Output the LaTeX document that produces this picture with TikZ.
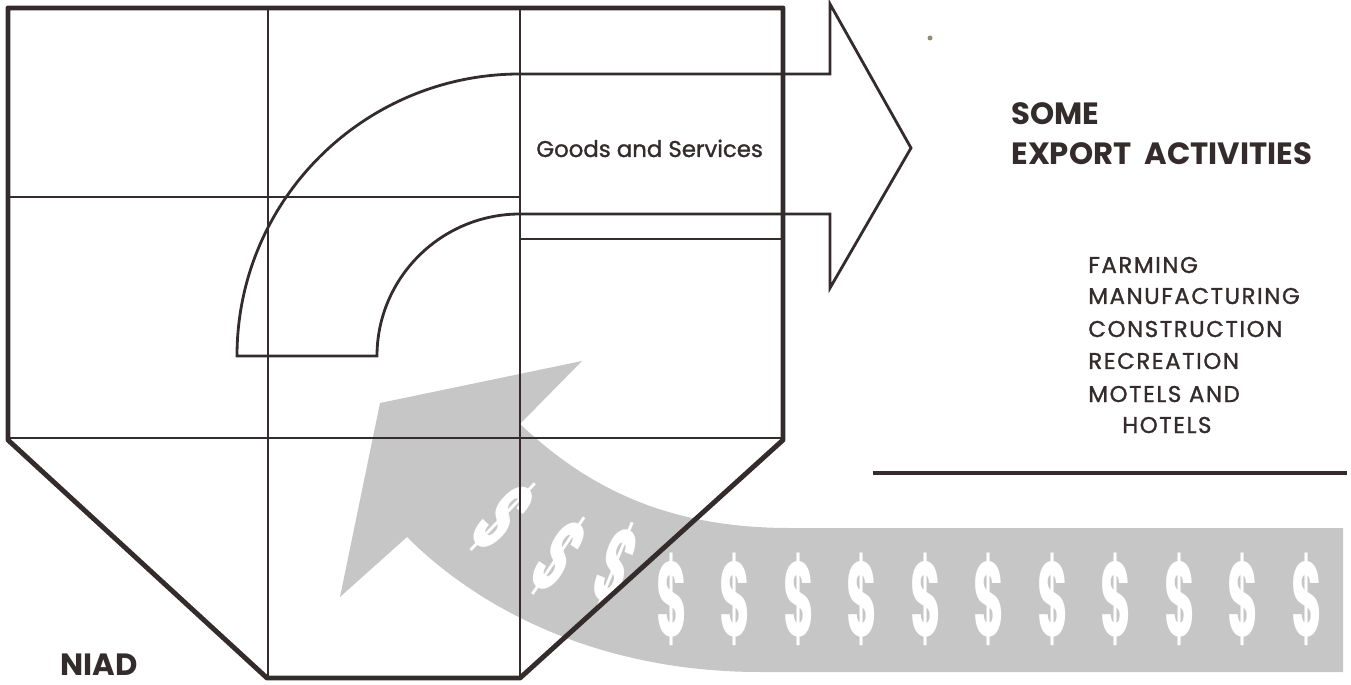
\documentclass[tikz,border=0pt]{standalone}
\usepackage{fontspec}
\setmainfont{Poppins}
\newfontfamily\medfont{Poppins}[FakeBold=1.2]
\newfontfamily\spacedfont{Poppins}[FakeBold=1.2, LetterSpace=7]
\usetikzlibrary{positioning}
\definecolor{ink}{RGB}{52,44,44}
\definecolor{cashgray}{RGB}{198,198,198}
\definecolor{speck}{RGB}{150,140,110}
\tikzset{
  wall/.style={draw=ink, line width=2.8pt, line join=round},
  gridline/.style={draw=ink, line width=1pt},
  flow/.style={draw=ink, line width=1.6pt, line join=miter},
  cash/.style={fill=cashgray, draw=none},
  dollar/.style={text=white, font=\fontsize{60}{60}\selectfont\bfseries,
    xscale=0.45, inner sep=0pt},
  goodstext/.style={text=ink, inner sep=0pt, anchor=base west,
    font=\fontsize{13}{15}\medfont},
  headline/.style={text=ink, inner sep=0pt, anchor=base west,
    font=\fontsize{17.5}{20}\selectfont\bfseries},
  itemtext/.style={text=ink, inner sep=0pt, anchor=base west,
    font=\fontsize{13}{15}\spacedfont},
  rule/.style={draw=ink, line width=1.8pt}
}

\begin{document}
\begin{tikzpicture}[x=0.02cm, y=-0.02cm]
  \useasboundingbox (0,0) rectangle (1351,685);

  % Money flowing back in
  \path[cash] (1343,528) -- (790,528)
    .. controls (670,528) and (590,490) .. (520,424)
    -- (582,361) -- (380,403) -- (340,597) -- (407,537)
    .. controls (480,610) and (600,672) .. (760,672)
    -- (1343,672) -- cycle;
  \node[rotate=-44, dollar] (d1) at (504,518) {\$};
  \node[rotate=-34, dollar] (d2) at (559,556) {\$};
  \node[rotate=-22, dollar] (d3) at (616,566) {\$};
  \foreach \i in {0,...,10}
    \node[dollar] (up\i) at (672+63.5*\i,599) {\$};

  % Region outline and grid
  \draw[gridline] (268,8) -- (268,678);
  \draw[gridline] (520,8) -- (520,678);
  \draw[gridline] (8,197) -- (520,197);
  \draw[gridline] (520,239) -- (783,239);
  \draw[gridline] (8,438) -- (783,438);
  \draw[wall] (8,8) -- (783,8) -- (783,440) -- (520,678)
    -- (267,678) -- (8,440) -- cycle;

  % Goods going out
  \draw[flow] (237,356) .. controls (237,200) and (364,74) .. (520,74)
    -- (830,74) -- (830,4) -- (911,148) -- (830,288) -- (830,214)
    -- (520,214) .. controls (441,214) and (377,278) .. (377,356) -- cycle;
  \fill[speck] (930,38) circle (2.5);

  % Labels
  \node[goodstext] (goods) at (536,157) {Goods and Services};
  \node[headline] (some) at (1011,125) {SOME};
  \node[headline] (export) at (1011,165) {EXPORT\ \ ACTIVITIES};
  \node[itemtext] (farm) at (1088,273) {FARMING};
  \node[itemtext] (manu) at (1088,304) {MANUFACTURING};
  \node[itemtext] (cons) at (1088,337) {CONSTRUCTION};
  \node[itemtext] (recr) at (1088,369) {RECREATION};
  \node[itemtext] (motel) at (1088,402) {MOTELS AND};
  \node[itemtext] (hotel) at (1122,433) {HOTELS};
  \draw[rule] (873,473) -- (1347,473);
  \node[headline] (niad) at (60,675) {NIAD};
\end{tikzpicture}
\end{document}
